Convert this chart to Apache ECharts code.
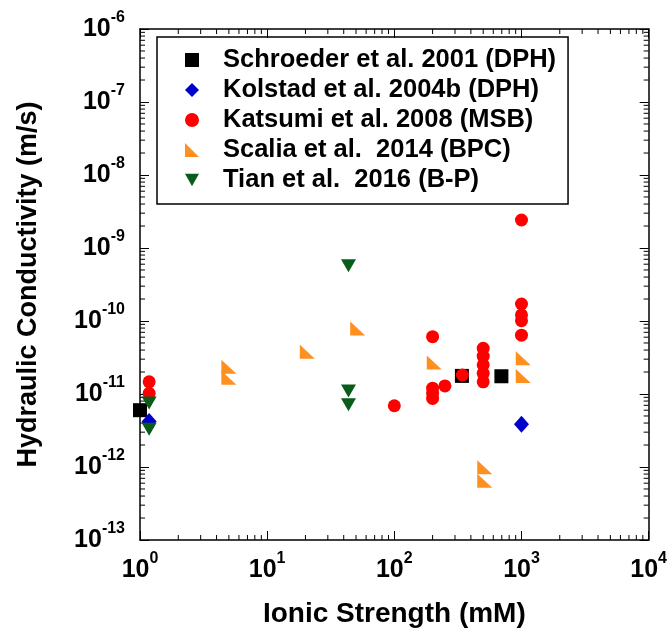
<!DOCTYPE html>
<html>
<head>
<meta charset="utf-8">
<script src="https://cdn.jsdelivr.net/npm/echarts@6/dist/echarts.min.js"></script>
<style>
  html, body { margin: 0; padding: 0; background: #fff; }
  #chart { width: 670px; height: 635px; }
  #err { position: absolute; left: 0; top: 0; color: #c00; font: 11px monospace; white-space: pre-wrap; }
</style>
</head>
<body>
<div id="chart"></div>
<div id="err"></div>
<script>
window.onerror = function (msg) { document.getElementById('err').textContent += msg + '\n'; };

// data: [ionic strength (mM), hydraulic conductivity (m/s)]
var schroeder = [[1, 6.0e-12], [340, 1.77e-11], [695, 1.75e-11]];
var kolstad = [[1.18, 4.2e-12], [1000, 3.85e-12]];
var katsumi = [
    [1.18, 1.47e-11], [1.18, 1.02e-11],
    [100, 6.9e-12],
    [200, 6.1e-11], [200, 1.2e-11], [200, 1.02e-11], [200, 8.7e-12],
    [250, 1.29e-11],
    [343, 1.82e-11],
    [500, 4.23e-11], [500, 3.3e-11], [500, 2.5e-11], [500, 1.92e-11], [500, 1.47e-11],
    [1000, 2.42e-9], [1000, 1.71e-10], [1000, 1.21e-10], [1000, 1.01e-10], [1000, 6.4e-11]
];
var scalia = [
    [5, 2.37e-11], [5, 1.67e-11],
    [20.7, 3.8e-11],
    [51.5, 7.9e-11],
    [206, 2.7e-11],
    [514, 9.9e-13], [514, 6.5e-13],
    [1033, 3.08e-11], [1033, 1.77e-11]
];
var tian = [[1.18, 7.5e-12], [1.18, 3.3e-12], [43.6, 5.7e-10], [43.6, 1.1e-11], [43.6, 7.1e-12]];

var seriesNames = ['Schroeder et al. 2001 (DPH)', 'Kolstad et al. 2004b (DPH)', 'Katsumi et al. 2008 (MSB)',
    'Scalia et al.  2014 (BPC)', 'Tian et al.  2016 (B-P)'];

// ticks (decades + 2..9 minors)
var xMajor = [1, 10, 100, 1000, 10000];
var yMajor = [1e-13, 1e-12, 1e-11, 1e-10, 1e-9, 1e-8, 1e-7, 1e-6];
var mantissas = [2, 3, 4, 5, 6, 7, 8, 9];

function minorTicks(majors) {
    var out = [];
    for (var i = 0; i < majors.length - 1; i++) {
        for (var j = 0; j < mantissas.length; j++) {
            out.push(Number((mantissas[j] * majors[i]).toPrecision(3)));
        }
    }
    return out;
}
var xMinor = minorTicks(xMajor);
var yMinor = minorTicks(yMajor);

var X_MIN = xMajor[0], X_MAX = xMajor[xMajor.length - 1];
var Y_MIN = yMajor[0], Y_MAX = yMajor[yMajor.length - 1];

var FONT = 'Liberation Sans, Arial, sans-serif';

function expOf(v) { return Math.round(Math.log(v) / Math.LN10); }
function powLabel(v) {
    return '{b|10}{e|' + expOf(v) + '}';
}
var richLabel = {
    b: { fontSize: 25, fontWeight: 'bold', fontFamily: FONT, color: '#000' },
    e: { fontSize: 16, fontWeight: 'bold', fontFamily: FONT, color: '#000', padding: [0, 0, 22, 0] }
};

function tickLine(x1, y1, x2, y2) {
    return { type: 'line', shape: { x1: x1, y1: y1, x2: x2, y2: y2 }, style: { stroke: '#000', lineWidth: 1 } };
}

// short inward ticks at 2..9 on bottom + top edges
function renderXTick(params, api) {
    var v = api.value(0);
    var b = api.coord([v, Y_MIN]);
    var t = api.coord([v, Y_MAX]);
    return { type: 'group', children: [tickLine(b[0], b[1], b[0], b[1] - 5), tickLine(t[0], t[1], t[0], t[1] + 5)] };
}
// short inward ticks at 2..9 on left + right edges
function renderYTick(params, api) {
    var v = api.value(1);
    var l = api.coord([X_MIN, v]);
    var r = api.coord([X_MAX, v]);
    return { type: 'group', children: [tickLine(l[0], l[1], l[0] + 5, l[1]), tickLine(r[0], r[1], r[0] - 5, r[1])] };
}

function logAxis(pos, min, max, margin, showLabel) {
    return {
        type: 'log',
        logBase: 10,
        position: pos,
        min: min,
        max: max,
        axisLine: { show: true, lineStyle: { color: '#000', width: 1.5 } },
        axisTick: { show: true, inside: true, length: 9, lineStyle: { color: '#000' } },
        splitLine: { show: false },
        axisLabel: showLabel
            ? { show: true, formatter: powLabel, rich: richLabel, margin: margin }
            : { show: false }
    };
}

var xBottom = logAxis('bottom', X_MIN, X_MAX, 11, true);
xBottom.name = 'Ionic Strength (mM)';
xBottom.nameLocation = 'middle';
xBottom.nameGap = 60;
xBottom.nameTextStyle = { fontSize: 28, fontWeight: 'bold', fontFamily: FONT, color: '#000' };

var yLeft = logAxis('left', Y_MIN, Y_MAX, 15, true);
yLeft.name = 'Hydraulic Conductivity (m/s)';
yLeft.nameLocation = 'middle';
yLeft.nameGap = 98;
yLeft.nameTextStyle = { fontSize: 27, fontWeight: 'bold', fontFamily: FONT, color: '#000' };

var myChart = echarts.init(document.getElementById('chart'));
var option = {
    animation: false,
    grid: {
        left: 140,
        right: 20,
        top: 29,
        bottom: 95
    },
    legend: {
        orient: 'vertical',
        left: 157,
        top: 37,
        padding: [10, 12, 11, 28],
        borderColor: '#000',
        borderWidth: 1.5,
        itemWidth: 14,
        itemHeight: 14,
        itemGap: 4,
        textStyle: { fontSize: 25.5, fontWeight: 'bold', fontFamily: FONT, color: '#000', lineHeight: 25, padding: [0, 0, 0, 19] },
        data: seriesNames
    },
    xAxis: [xBottom, logAxis('top', X_MIN, X_MAX, 0, false)],
    yAxis: [yLeft, logAxis('right', Y_MIN, Y_MAX, 0, false)],
    series: [
        {
            name: seriesNames[0],
            type: 'scatter',
            symbol: 'rect',
            symbolSize: 14,
            itemStyle: { color: '#000000', opacity: 1 },
            data: schroeder
        },
        {
            name: seriesNames[1],
            type: 'scatter',
            symbol: 'diamond',
            symbolSize: [15, 17],
            itemStyle: { color: '#0000cc', opacity: 1 },
            data: kolstad
        },
        {
            name: seriesNames[2],
            type: 'scatter',
            symbol: 'circle',
            symbolSize: 13,
            itemStyle: { color: '#ff0000', opacity: 1 },
            data: katsumi
        },
        {
            name: seriesNames[3],
            type: 'scatter',
            symbol: 'path://M0,0 L0,10 L10,10 Z',
            symbolSize: [15, 14],
            itemStyle: { color: '#ff8f1f', opacity: 1 },
            data: scalia
        },
        {
            name: seriesNames[4],
            type: 'scatter',
            symbol: 'path://M0,0 L10,0 L5,9 Z',
            symbolSize: [15, 13],
            itemStyle: { color: '#0a5c1a', opacity: 1 },
            data: tian
        },
        {
            type: 'custom',
            silent: true,
            clip: false,
            renderItem: renderXTick,
            data: xMinor.map(function (v) { return [v, Y_MIN]; })
        },
        {
            type: 'custom',
            silent: true,
            clip: false,
            renderItem: renderYTick,
            data: yMinor.map(function (v) { return [X_MIN, v]; })
        }
    ]
};
try {
    myChart.setOption(option);
} catch (e) {
    document.getElementById('err').textContent += e + '\n';
}
</script>
</body>
</html>
